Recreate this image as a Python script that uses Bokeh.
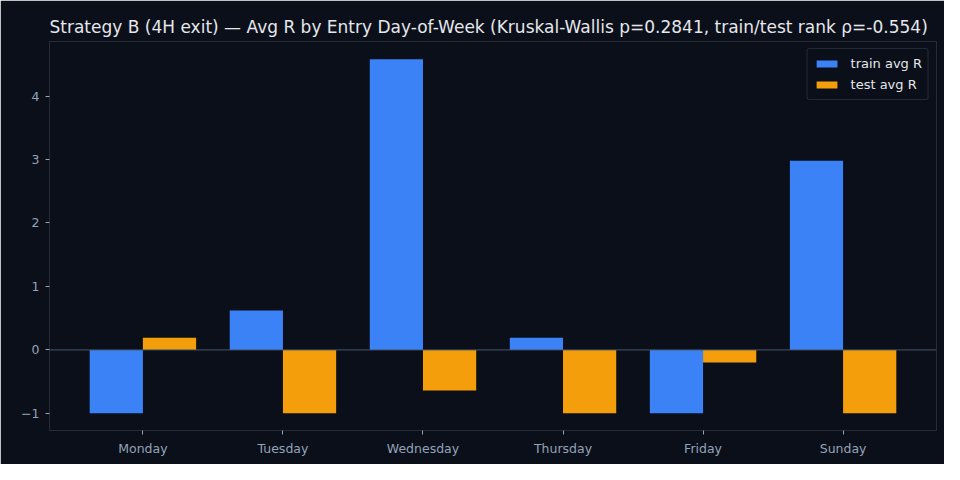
from bokeh.plotting import figure
from bokeh.models import Range1d, FixedTicker, Span, Legend, LegendItem, ColumnDataSource
from bokeh.embed import file_html
from bokeh.resources import INLINE

days = ["Monday", "Tuesday", "Wednesday", "Thursday", "Friday", "Sunday"]
train_avg = [-1.0, 0.62, 4.58, 0.19, -1.0, 2.98]
test_avg = [0.19, -1.0, -0.64, -1.0, -0.2, -1.0]

bg = "#0b0f19"
idx = list(range(len(days)))
w = 0.38

src = ColumnDataSource(data=dict(
    xtr=[i - w / 2 for i in idx],
    xte=[i + w / 2 for i in idx],
    train=train_avg,
    test=test_avg,
))

p = figure(width=944, height=464, output_backend="svg", toolbar_location=None, tools="",
           x_range=Range1d(-0.667, 5.667), y_range=Range1d(-1.27, 4.86))

p.title.text = "Strategy B (4H exit) \u2014 Avg R by Entry Day-of-Week (Kruskal-Wallis p=0.2841, train/test rank \u03c1=-0.554)"
p.title.text_color = "#e5e7eb"
p.title.text_font = "DejaVu Sans"
p.title.text_font_size = "17px"
p.title.text_font_style = "normal"
p.title.align = "left"
p.title.offset = 0

p.background_fill_color = bg
p.border_fill_color = bg
p.outline_line_color = "#262b36"
p.min_border_left = 49
p.min_border_top = 41
p.min_border_right = 8
p.min_border_bottom = 34

r1 = p.vbar(x="xtr", top="train", width=w, source=src, color="#3b82f6", line_color=None)
r2 = p.vbar(x="xte", top="test", width=w, source=src, color="#f59e0b", line_color=None)

zero = Span(location=0, dimension="width", line_color="#475569", line_width=1)
p.add_layout(zero)

p.xgrid.grid_line_color = None
p.ygrid.grid_line_color = None

p.xaxis.ticker = FixedTicker(ticks=idx)
p.xaxis.major_label_overrides = {i: d for i, d in enumerate(days)}
p.yaxis.ticker = FixedTicker(ticks=[-1, 0, 1, 2, 3, 4])

for ax in (p.xaxis, p.yaxis):
    ax.axis_line_color = "#262b36"
    ax.major_tick_line_color = "#94a3b8"
    ax.major_tick_out = 4
    ax.major_tick_in = 0
    ax.minor_tick_line_color = None
    ax.major_label_text_color = "#94a3b8"
    ax.major_label_text_font = "DejaVu Sans"
    ax.major_label_text_font_size = "12.5px"
    ax.major_label_standoff = 6

legend = Legend(items=[LegendItem(label="train avg R", renderers=[r1]),
                       LegendItem(label="test avg R", renderers=[r2])],
                location="top_right")
legend.background_fill_color = bg
legend.background_fill_alpha = 1
legend.border_line_color = "#3f4451"
legend.border_line_width = 1.5
legend.border_radius = 3
legend.label_text_color = "#e5e7eb"
legend.label_text_font = "DejaVu Sans"
legend.label_text_font_size = "13px"
legend.glyph_width = 26
legend.glyph_height = 9
legend.label_height = 17
legend.spacing = 4
legend.padding = 6
legend.margin = 7
legend.label_standoff = 11
p.add_layout(legend)

open("out.html", "w").write(file_html(p, INLINE))
